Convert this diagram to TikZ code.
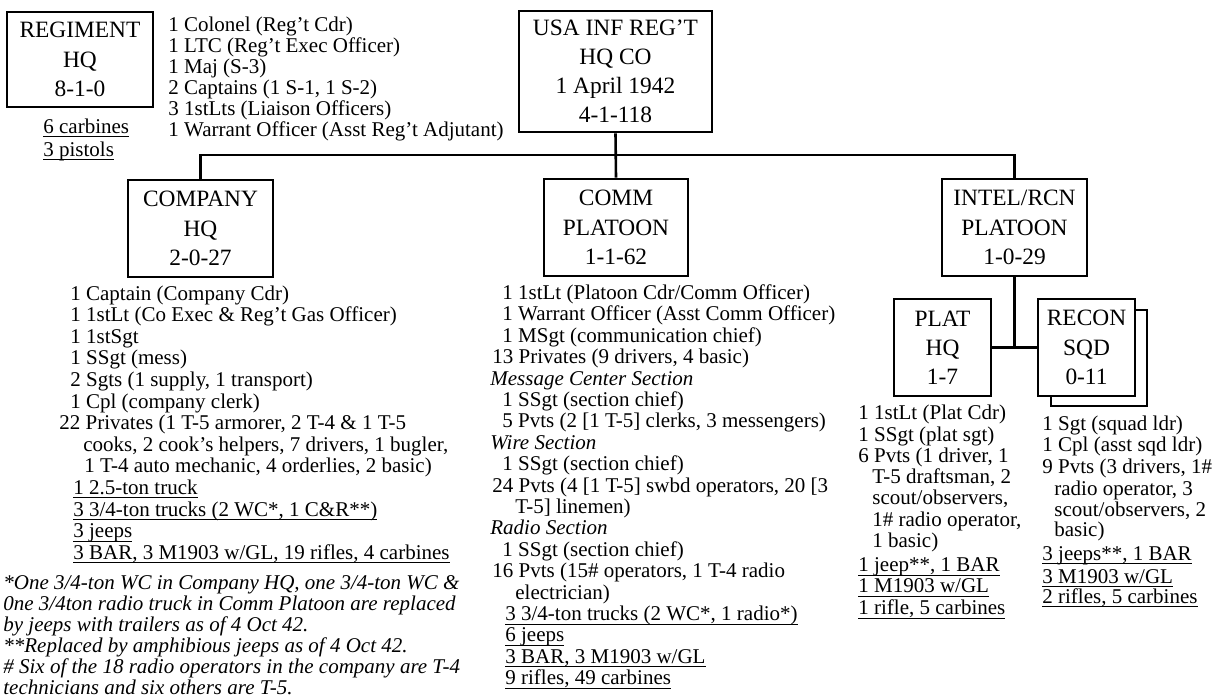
\documentclass[tikz,border=0pt]{standalone}
\usepackage{fontspec}
\setmainfont{Liberation Serif}
\newcommand\boxfont{\fontsize{11.7}{14.6}\selectfont}
\newcommand\lstfont{\fontsize{10.5}{10.75}\selectfont}
\newcommand\ulx[1]{\setbox0\hbox{#1}\rlap{\rule[-2pt]{\wd0}{0.5pt}}\box0}
\begin{document}
\begin{tikzpicture}[x=0.5pt,y=-0.5pt,
  box/.style={draw,line width=1.3pt,inner sep=0pt,align=center,font=\boxfont,fill=white},
  lst/.style={inner sep=0pt,anchor=base west,font=\lstfont},
  conn/.style={line width=1.3pt}]
\useasboundingbox (0,0) rectangle (1215,696);

% boxes
\node[box,minimum width=73pt,minimum height=47.5pt] (reg) at (80,59.5) {REGIMENT\\HQ\\8-1-0};
\node[box,minimum width=96.5pt,minimum height=60.5pt] (usa) at (615.5,71.5) {USA INF REG’T\\HQ CO\\1 April 1942\\4-1-118};
\node[box,minimum width=72.5pt,minimum height=48.5pt] (cmp) at (200.5,228.5) {COMPANY\\HQ\\2-0-27};
\node[box,minimum width=72pt,minimum height=48.5pt] (comm) at (616,227.5) {COMM\\PLATOON\\1-1-62};
\node[box,minimum width=72.5pt,minimum height=48.5pt] (intel) at (1014.5,227.5) {INTEL/RCN\\PLATOON\\1-0-29};
\node[box,minimum width=48.5pt,minimum height=48.5pt] (plat) at (942.5,347.5) {PLAT\\HQ\\1-7};
\node[box,minimum width=48pt,minimum height=48pt] (reconbk) at (1099,358) {};
\node[box,minimum width=48.5pt,minimum height=48.5pt] (recon) at (1086.5,347.5) {RECON\\SQD\\0-11};

% connectors
\coordinate (bus) at (615.5,155);
\draw[conn] (cmp.north) |- (bus) -| (intel.north);
\draw[conn] (usa.south) -- (comm.north);
\draw[conn] (intel.south) -- (intel.south |- plat.east);
\draw[conn] (plat.east) -- (recon.west);

% regiment list
\foreach \xx/\yy/\txt [count=\i] in {
 168/31.5/{1 Colonel (Reg’t Cdr)},
 168/52.5/{1 LTC (Reg’t Exec Officer)},
 168/73.5/{1 Maj (S-3)},
 168/94.5/{2 Captains (1 S-1, 1 S-2)},
 168/115.5/{3 1stLts (Liaison Officers)},
 168/136.5/{1 Warrant Officer (Asst Reg’t Adjutant)},
 43/133.5/{\ulx{6 carbines}},
 43/156/{\ulx{3 pistols}}}
 \node[lst] (rg\i) at (\xx,\yy) {\txt};

% company list
\foreach \xx/\yy/\txt [count=\i] in {
 70/300/{1 Captain (Company Cdr)},
 70/321.6/{1 1stLt (Co Exec \& Reg’t Gas Officer)},
 70/343.2/{1 1stSgt},
 70/364.8/{1 SSgt (mess)},
 70/386.4/{2 Sgts (1 supply, 1 transport)},
 70/408/{1 Cpl (company clerk)},
 59/429.6/{22 Privates (1 T-5 armorer, 2 T-4 \& 1 T-5},
 83/451.2/{cooks, 2 cook’s helpers, 7 drivers, 1 bugler,},
 84/472.8/{1 T-4 auto mechanic, 4 orderlies, 2 basic)},
 73/494.4/{\ulx{1 2.5-ton truck}},
 73/516/{\ulx{3 3/4-ton trucks (2 WC*, 1 C\&R**)}},
 73/537.6/{\ulx{3 jeeps}},
 73/559.2/{\ulx{3 BAR, 3 M1903 w/GL, 19 rifles, 4 carbines}}}
 \node[lst] (cp\i) at (\xx,\yy) {\txt};

% footnotes
\foreach \xx/\yy/\txt [count=\i] in {
 3/589.5/{*One 3/4-ton WC in Company HQ, one 3/4-ton WC \&},
 3/610.5/{0ne 3/4ton radio truck in Comm Platoon are replaced},
 3/631.5/{by jeeps with trailers as of 4 Oct 42.},
 3/652.5/{**Replaced by amphibious jeeps as of 4 Oct 42.},
 3/673.5/{\# Six of the 18 radio operators in the company are T-4},
 3/694.5/{technicians and six others are T-5.}}
 \node[lst,font=\lstfont\itshape] (fn\i) at (\xx,\yy) {\txt};

% comm list
\foreach \xx/\yy/\txt [count=\i] in {
 502/299.5/{1 1stLt (Platoon Cdr/Comm Officer)},
 502/320.9/{1 Warrant Officer (Asst Comm Officer)},
 502/342.3/{1 MSgt (communication chief)},
 492/363.7/{13 Privates (9 drivers, 4 basic)},
 490/385.1/{\textit{Message Center Section}},
 502/406.5/{1 SSgt (section chief)},
 502/427.9/{5 Pvts (2 [1 T-5] clerks, 3 messengers)},
 490/449.3/{\textit{Wire Section}},
 502/470.7/{1 SSgt (section chief)},
 492/492.1/{24 Pvts (4 [1 T-5] swbd operators, 20 [3},
 515/513.5/{T-5] linemen)},
 490/534.9/{\textit{Radio Section}},
 502/556.3/{1 SSgt (section chief)},
 492/577.7/{16 Pvts (15\# operators, 1 T-4 radio},
 515/599.1/{electrician)},
 505/620.5/{\ulx{3 3/4-ton trucks (2 WC*, 1 radio*)}},
 505/641.9/{\ulx{6 jeeps}},
 505/663.3/{\ulx{3 BAR, 3 M1903 w/GL}},
 505/684.7/{\ulx{9 rifles, 49 carbines}}}
 \node[lst] (cm\i) at (\xx,\yy) {\txt};

% plat hq list
\foreach \xx/\yy/\txt [count=\i] in {
 858/419.5/{1 1stLt (Plat Cdr)},
 858/441.5/{1 SSgt (plat sgt)},
 858/462.5/{6 Pvts (1 driver, 1},
 872/483.5/{T-5 draftsman, 2},
 872/504.5/{scout/observers,},
 872/526.5/{1\# radio operator,},
 872/547.5/{1 basic)},
 858/571.5/{\ulx{1 jeep**, 1 BAR}},
 858/592.5/{\ulx{1 M1903 w/GL}},
 858/614.5/{\ulx{1 rifle, 5 carbines}}}
 \node[lst] (ph\i) at (\xx,\yy) {\txt};

% recon list
\foreach \xx/\yy/\txt [count=\i] in {
 1042/430/{1 Sgt (squad ldr)},
 1042/451.5/{1 Cpl (asst sqd ldr)},
 1042/473/{9 Pvts (3 drivers, 1\#},
 1054/495/{radio operator, 3},
 1054/516.5/{scout/observers, 2},
 1054/536.5/{basic)},
 1042/560/{\ulx{3 jeeps**, 1 BAR}},
 1042/583/{\ulx{3 M1903 w/GL}},
 1042/603/{\ulx{2 rifles, 5 carbines}}}
 \node[lst] (rc\i) at (\xx,\yy) {\txt};
\end{tikzpicture}
\end{document}
